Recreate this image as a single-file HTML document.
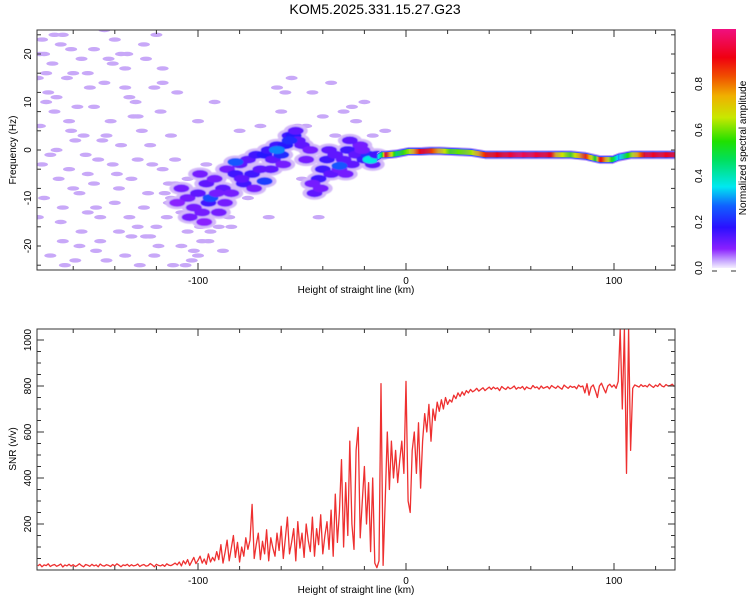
<!DOCTYPE html>
<html><head><meta charset="utf-8"><style>
body{margin:0;background:#fff;}
svg text{font-family:"Liberation Sans",sans-serif;fill:#000;}
</style></head><body>
<svg id="c" width="750" height="600" xmlns="http://www.w3.org/2000/svg">
<defs>
<linearGradient id="cbg" x1="0" y1="1" x2="0" y2="0">
<stop offset="0" stop-color="#f4eeff"/><stop offset="0.03" stop-color="#c8a8ff"/><stop offset="0.08" stop-color="#8a20ff"/>
<stop offset="0.17" stop-color="#2a10ff"/><stop offset="0.26" stop-color="#1060ff"/><stop offset="0.34" stop-color="#00e8f0"/>
<stop offset="0.45" stop-color="#00e060"/><stop offset="0.53" stop-color="#20e000"/><stop offset="0.63" stop-color="#c8e800"/>
<stop offset="0.72" stop-color="#f0b000"/><stop offset="0.8" stop-color="#f05000"/><stop offset="0.88" stop-color="#f00010"/>
<stop offset="1" stop-color="#f01080"/></linearGradient>
<filter id="bl" x="-50%" y="-50%" width="200%" height="200%"><feGaussianBlur stdDeviation="0.6"/></filter>
<clipPath id="cp1"><rect x="37" y="30" width="638" height="240"/></clipPath>
<clipPath id="cp2"><rect x="37" y="329" width="638" height="241"/></clipPath>
</defs>
<text x="375" y="14" font-size="14" text-anchor="middle">KOM5.2025.331.15.27.G23</text>
<g id="spec" clip-path="url(#cp1)"></g>
<g id="snr" clip-path="url(#cp2)"></g>
<g id="axes"></g>
<rect x="712" y="29" width="24" height="239" fill="url(#cbg)"/>
<text transform="translate(746,148) rotate(-90)" font-size="10" text-anchor="middle">Normalized spectral amplitude</text>
<text transform="translate(16,150) rotate(-90)" font-size="10" text-anchor="middle">Frequency (Hz)</text>
<text x="356" y="293" font-size="10" text-anchor="middle">Height of straight line (km)</text>
<text transform="translate(16,449) rotate(-90)" font-size="10" text-anchor="middle">SNR (v/v)</text>
<text x="356" y="593" font-size="10" text-anchor="middle">Height of straight line (km)</text>
</svg>
<script>
const xTickVals=[-100,0,100];
const fTickVals=[20,10,0,-10,-20];
const snrTickVals=[200,400,600,800,1000];
const cbTickVals=[0,0.2,0.4,0.6,0.8];
const speckH=[-175,-170,-165,-160,-172,-158,-150,-145,-140,-135,-130,-125,-120,-176,-168,-162,-155,-148,-142,-137,-132,-127,-122,-118,-174,-166,-160,-153,-147,-140,-135,-129,-124,-119,-115,-112,-171,-164,-157,-150,-144,-138,-133,-128,-117,-113,-108,-105,-100,-95,-90,-85,-110,-100,-92,-80,-70,-60,-50,-45,-40,-30,-20,-55,-175,-169,-163,-156,-152,-146,-139,-134,-126,-121,-116,-111,-176,-167,-159,-149,-173,-161,-143,-131,-123,-114,-166,-154,
-177,-174,-171,-168,-165,-162,-159,-156,-153,-150,-147,-144,-141,-138,-135,-132,-129,-126,-123,-120,-117,-114,-111,-108,-105,-102,-99,-96,-177,-173,-169,-165,-161,-157,-153,-149,-145,-141,-137,-133,-129,-125,-121,-117,-113,-109,-106,-103,-98,-94,-88,-84,-76,-66,-58,-48,-36,-26,-16,-10,-62,-52,-42,-34,-24];
const speckF=[23,18,24,16,12,9,21,14,23,17,10,19,24,5,0,-4,3,-2,6,1,-6,4,-3,8,-10,-15,-8,-13,-19,-11,-22,-16,-9,-20,-14,-24,-22,-24,-20,-7,-23,-17,11,-24,-4,3,-20,-17,-22,-19,-16,-14,12,6,10,4,5,8,-6,12,7,8,10,15,-3,8,15,-17,13,2,-5,20,-12,13,-9,-2,20,-6,2,-12,16,21,19,7,-18,-7,22,-1,
15,20,-1,11,-19,6,-23,19,-5,9,-14,3,18,-8,13,-18,-2,22,1,-16,17,-11,-7,-13,-6,-21,-16,-3,-14,10,24,-12,4,-9,16,-21,25,-3,20,-14,7,-18,-22,14,-10,-11,-24,-23,-19,-17,-21,-16,-10,-14,12,5,14,9,3,4,13,5,-14,3,6];
const blobH=[-108,-105,-102,-100,-98,-96,-95,-92,-90,-88,-86,-84,-82,-80,-78,-76,-74,-72,-70,-68,-66,-64,-62,-60,-58,-56,-54,-52,-50,-48,-46,-44,-42,-40,-38,-36,-34,-32,-30,-28,-26,-24,-22,-20,-18,-16,-94,-82,-62,-68,-32,-17,-56,-104,-99,-91,-87,-79,-73,-65,-59,-53,-45,-41,-37,-29,-27,-21,-14,-110,-97];
const blobF=[-8,-10,-12,-9,-13,-7,-11,-6,-13,-8,-4,-9,-5,-3,-7,-2,-5,-1,-4,-1,0,-2,1,-1,1,3,3,2,1,-2,0,-9,-6,-4,-2,-5,-1,-4,-2,0,-3,-1,1,-2,-1,-3,-10,-2.5,0,-6.5,-3.3,-2,2,-14,-5,-9,-11,-6,-8,-4,-3,4,-7,-8,0,-5,2,0,-1,-11,-15];
const blobA=[0.1,0.1,0.1,0.12,0.1,0.12,0.15,0.1,0.1,0.12,0.1,0.1,0.15,0.12,0.15,0.12,0.15,0.15,0.12,0.18,0.15,0.12,0.15,0.2,0.18,0.15,0.18,0.12,0.12,0.1,0.1,0.12,0.15,0.15,0.15,0.12,0.12,0.1,0.12,0.15,0.12,0.12,0.1,0.15,0.2,0.12,0.24,0.25,0.28,0.22,0.25,0.35,0.2,0.1,0.1,0.1,0.1,0.12,0.1,0.12,0.1,0.12,0.1,0.1,0.12,0.1,0.12,0.1,0.15,0.08,0.08];
const bandH=[-14,-12,-10,-5,1,7,11,16,21,31,38,55,69,72,79,86,91,93,99,102,108,115,129];
const bandF=[-1.5,-1,-1,-0.8,-0.3,-0.3,-0.2,-0.2,-0.3,-0.5,-1,-1,-1,-1,-1,-1.3,-1.8,-2,-2,-1.5,-1,-1,-1];
const bandA=[0.3,0.45,0.9,0.45,0.6,0.9,0.85,0.7,0.55,0.6,0.85,0.95,0.9,0.7,0.55,0.85,0.5,0.9,0.5,0.3,0.6,0.9,0.9];
const snrH0=-177, snrStep=1;
const snrVals=[18,25,14,22,19,27,15,21,24,16,20,26,13,22,18,25,17,23,15,20,27,19,14,24,21,16,25,18,22,14,26,19,17,23,20,15,24,18,27,21,14,22,19,25,16,23,18,20,26,15,21,24,17,19,28,22,14,25,20,18,23,16,27,21,19,24,30,
22,35,18,40,26,45,20,38,55,28,42,60,30,48,25,70,35,55,40,80,
45,110,30,75,130,40,95,150,55,120,35,100,60,140,90,130,285,50,110,160,45,125,70,175,40,140,95,60,160,85,
190,50,140,230,70,120,180,40,210,95,160,55,200,130,80,230,60,180,110,240,70,150,210,90,260,
60,330,120,250,480,100,380,150,560,200,90,520,620,140,300,450,200,380,80,400,
30,10,40,810,20,300,600,350,560,400,520,380,480,560,420,
820,300,250,520,600,420,640,356,560,680,600,720,560,700,650,730,690,740,700,750,720,
740,730,760,745,770,755,775,760,780,770,785,775,780,790,778,785,792,780,788,795,
785,795,788,792,780,798,790,785,796,788,792,800,786,794,790,798,784,796,790,788,802,792,796,786,800,790,794,798,788,802,795,790,800,792,786,804,796,790,800,794,798,788,804,796,
800,770,810,760,795,805,780,750,800,812,790,770,800,808,795,
805,790,820,1048,700,1048,420,1048,520,790,805,
800,795,806,798,802,796,808,800,794,804,798,810,800,796,806,800,802,808,798];

const NS="http://www.w3.org/2000/svg";
const X=h=>406+2.08*h;
const YF=f=>150-4.8*f;
const YS=v=>570-0.23*v;
function mk(tag,attrs,parent){const e=document.createElementNS(NS,tag);for(const k in attrs)e.setAttribute(k,attrs[k]);parent.appendChild(e);return e;}
const cstops=[[0,[244,238,255]],[0.03,[200,168,255]],[0.08,[138,32,255]],[0.17,[42,16,255]],[0.26,[16,96,255]],[0.34,[0,232,240]],[0.45,[0,224,96]],[0.53,[32,224,0]],[0.63,[200,232,0]],[0.72,[240,176,0]],[0.8,[240,80,0]],[0.88,[240,0,16]],[1,[240,16,128]]];
function cmap(v){for(let i=1;i<cstops.length;i++){if(v<=cstops[i][0]){const a=cstops[i-1],b=cstops[i],t=(v-a[0])/(b[0]-a[0]);return 'rgb('+a[1].map((c,j)=>Math.round(c+(b[1][j]-c)*t)).join(',')+')';}}return 'rgb(240,16,128)';}
const spec=document.getElementById('spec');
for(let i=0;i<speckH.length;i++){
 const e=mk('ellipse',{cx:X(speckH[i]),cy:YF(speckF[i]),rx:6,ry:2.2,fill:'#c8a8f8'},spec);
 
 
}
const gb=mk('g',{filter:'url(#bl)'},spec);
for(let i=0;i<blobH.length;i++){
 const e=mk('ellipse',{cx:X(blobH[i]),cy:YF(blobF[i]),rx:12,ry:6.5,fill:'#d4baf9'},gb);
 
 
}
for(let i=0;i<blobH.length;i++){
 const e=mk('ellipse',{cx:X(blobH[i]),cy:YF(blobF[i]),rx:8,ry:4,fill:cmap(blobA[i])},gb);
 
 
}
// band
for(let h=bandH[0];h<bandH[bandH.length-1];h+=0.5){
 let k=0;while(k<bandH.length-2&&bandH[k+1]<=h)k++;
 const t=(h-bandH[k])/(bandH[k+1]-bandH[k]);
 const a=bandA[k]+(bandA[k+1]-bandA[k])*t, f=bandF[k]+(bandF[k+1]-bandF[k])*t;
 const y=YF(f);
 const e1=mk('rect',{x:X(h),y:y-4.5,width:1.3,height:9,fill:'#c0a0fa'},spec);
 
 
 const e2=mk('rect',{x:X(h),y:y-3.5,width:1.3,height:7,fill:'#3050ff'},spec);
 
 
 const e3=mk('rect',{x:X(h),y:y-2.5,width:1.3,height:5,fill:cmap(a)},spec);
 
 
}
// SNR line
const snr=document.getElementById('snr');
const pts=snrVals.map((v,i)=>X(snrH0+i*snrStep).toFixed(1)+','+YS(v).toFixed(1)).join(' ');
const ln=mk('polyline',{points:pts,fill:'none',stroke:'#ee3030','stroke-width':1.3,'stroke-linejoin':'round'},snr);


// axes
const ax=document.getElementById('axes');
function frame(x,y,w,h,name){const r=mk('rect',{x:x,y:y,width:w,height:h,fill:'none',stroke:'#333','stroke-width':1},ax);}
frame(37,30,638,240,'top-plot-frame');
frame(37,329,638,241,'bottom-plot-frame');
function tick(x1,y1,x2,y2){mk('line',{x1:x1,y1:y1,x2:x2,y2:y2,stroke:'#333','stroke-width':1},ax);}
for(let h=-160;h<=120;h+=20){const x=X(h),L=(h%100===0)?7:4;tick(x,270,x,270-L);tick(x,30,x,30+L);tick(x,570,x,570-L);tick(x,329,x,329+L);}
for(let f=-24;f<=24;f+=4){const y=YF(f);tick(37,y,41,y);tick(675,y,671,y);}
for(let v=50;v<=1000;v+=50){const y=YS(v);const L=v%200===0?7:4;tick(37,y,37+L,y);tick(675,y,675-L,y);}
xTickVals.forEach(h=>{
 const t1=mk('text',{x:X(h),y:284,'font-size':10,'text-anchor':'middle'},ax);t1.textContent=h;
 
 const t2=mk('text',{x:X(h),y:584,'font-size':10,'text-anchor':'middle'},ax);t2.textContent=h;
 
});
fTickVals.forEach(f=>{
 const t=mk('text',{transform:'translate(31,'+YF(f)+') rotate(-90)','font-size':10,'text-anchor':'middle'},ax);t.textContent=f;
 
});
snrTickVals.forEach(v=>{
 const t=mk('text',{transform:'translate(31,'+YS(v)+') rotate(-90)','font-size':10,'text-anchor':'middle'},ax);t.textContent=v;
 
});
cbTickVals.forEach(v=>{
 const y=268-v*230;
 const t=mk('text',{transform:'translate(702,'+y+') rotate(-90)','font-size':10,'text-anchor':'middle'},ax);t.textContent=v.toFixed(1);
 
});
tick(712,271,717,271);tick(731,271,736,271);
</script>
</body></html>
